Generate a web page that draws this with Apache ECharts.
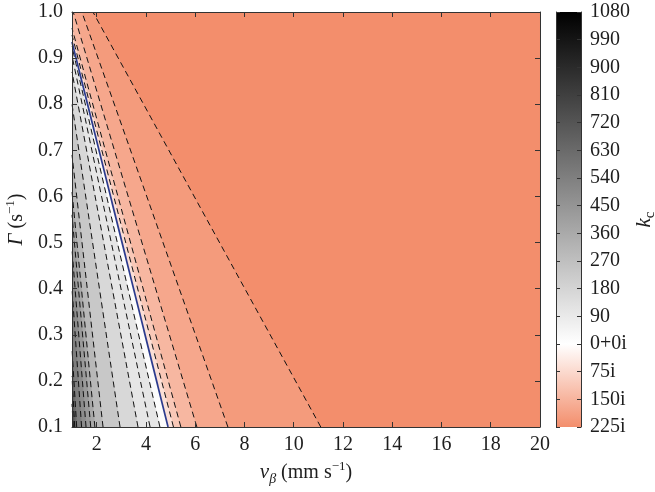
<!DOCTYPE html>
<html><head><meta charset="utf-8">
<script src="https://cdn.jsdelivr.net/npm/echarts@6/dist/echarts.min.js"></script>
<style>html,body{margin:0;padding:0;background:#fff}#c{width:655px;height:492px}</style>
</head><body><div id="c"></div>
<script>
// ---- data ----
const xTicks = [2, 4, 6, 8, 10, 12, 14, 16, 18, 20];
const yTicks = [0.1, 0.2, 0.3, 0.4, 0.5, 0.6, 0.7, 0.8, 0.9, 1.0];
const cbLabels = ['225i', '150i', '75i', '0+0i', '90', '180', '270', '360', '450', '540', '630', '720', '810', '900', '990', '1080'];

// dashed contour lines: point at Γ = 0.1 and where they leave the plot
const dashBottomX = [1.05, 1.11, 1.19, 1.39, 1.57, 1.76, 1.93, 2.26, 2.95, 3.68, 4.17, 4.57, 5.12, 5.42, 6.07, 7.33, 11.1];
const dashEndX    = [1.0, 1.0, 1.0, 1.0, 1.0, 1.0, 1.0, 1.0, 1.0, 1.0, 1.0, 1.0, 1.0, 1.0, 1.05, 1.4, 1.85];
const dashEndY    = [0.15, 0.21, 0.27, 0.40, 0.485, 0.56, 0.61, 0.69, 0.80, 0.87, 0.905, 0.925, 0.95, 0.965, 1.0, 1.0, 1.0];
// filled level just left of each dashed line (positive: real k_c, negative: imaginary part of k_c)
const bandLeftValue = [775, 700, 622, 546, 487, 428, 368, 300, 233, 165, 106, 106, -63, -110, -144, -176, -200];
// k_c = 0 contour (solid blue)
const zeroX = [4.9, 1.0];
const zeroY = [0.1, 0.935];
const zeroLeftValue = 12;
const rightmostValue = -225;
const xRange = [1, 20];
const yRange = [0.1, 1.0];

// ---- colour map (matches colorbar: black..white for real, white..salmon for imaginary) ----
const salmon = [243, 142, 108];
function valueColor(v) {
  if (v >= 0) {
    const g = Math.round(255 * (1 - v / 1080));
    return 'rgb(' + g + ',' + g + ',' + g + ')';
  }
  const f = Math.min(1, -v / 225);
  const c = [0, 1, 2].map(i => Math.round(255 + (salmon[i] - 255) * f));
  return 'rgb(' + c.join(',') + ')';
}

// boundaries for painter-style filling (right to left)
const bounds = dashBottomX.map((xb, i) => ({xb, xe: dashEndX[i], ye: dashEndY[i], v: bandLeftValue[i]}));
bounds.push({xb: zeroX[0], xe: zeroX[1], ye: zeroY[1], v: zeroLeftValue});
bounds.sort((a, b) => b.xb - a.xb);
const fills = [{poly: [[xRange[0], yRange[0]], [xRange[1], yRange[0]], [xRange[1], yRange[1]], [xRange[0], yRange[1]]], v: rightmostValue}];
bounds.forEach(b => {
  let poly;
  if (b.ye >= yRange[1] - 1e-9) poly = [[b.xb, yRange[0]], [b.xe, yRange[1]], [xRange[0], yRange[1]], [xRange[0], yRange[0]]];
  else poly = [[b.xb, yRange[0]], [xRange[0], b.ye], [xRange[0], yRange[0]]];
  fills.push({poly, v: b.v});
});

const FONT = 'Liberation Serif';
const TXT = '#1e1e1e';
const rich = {
  it: {fontFamily: FONT, fontStyle: 'italic', fontSize: 21, color: TXT, lineHeight: 26},
  n: {fontFamily: FONT, fontSize: 20, color: TXT, lineHeight: 26},
  sub: {fontFamily: FONT, fontStyle: 'italic', fontSize: 14, color: TXT, verticalAlign: 'bottom', lineHeight: 26},
  subn: {fontFamily: FONT, fontSize: 15, color: TXT, verticalAlign: 'bottom', lineHeight: 26},
  sup: {fontFamily: FONT, fontSize: 13, color: TXT, verticalAlign: 'top', lineHeight: 26}
};

const series = [];
series.push({
  type: 'custom', xAxisIndex: 0, yAxisIndex: 0, clip: true, z: 1, silent: true,
  data: fills.map((f, i) => [i]),
  renderItem: (params, api) => {
    const f = fills[params.dataIndex];
    const c = valueColor(f.v);
    return {type: 'polygon', shape: {points: f.poly.map(p => api.coord(p))}, style: {fill: c, stroke: c, lineWidth: 0.6}};
  }
});
dashBottomX.forEach((xb, i) => {
  series.push({
    type: 'line', xAxisIndex: 0, yAxisIndex: 0, z: 3, silent: true, symbol: 'none', animation: false,
    data: [[xb, yRange[0]], [dashEndX[i], dashEndY[i]]],
    lineStyle: {type: [6, 4], width: 1, color: '#111'}
  });
});
series.push({
  type: 'line', xAxisIndex: 0, yAxisIndex: 0, z: 4, silent: true, symbol: 'none', animation: false,
  data: zeroX.map((x, i) => [x, zeroY[i]]),
  lineStyle: {type: 'solid', width: 1.7, color: '#2c3b8e'}
});
// colorbar
series.push({
  type: 'custom', xAxisIndex: 2, yAxisIndex: 2, z: 1, silent: true,
  data: [[0]],
  renderItem: (params, api) => {
    const p0 = api.coord([0, cbLabels.length - 4]);
    const p1 = api.coord([1, -3]);
    const whiteAt = (cbLabels.length - 4) / (cbLabels.length - 1);
    return {
      type: 'rect',
      shape: {x: p0[0], y: p0[1], width: p1[0] - p0[0], height: p1[1] - p0[1]},
      style: {fill: new echarts.graphic.LinearGradient(0, 0, 0, 1, [
        {offset: 0, color: valueColor(1080)},
        {offset: whiteAt, color: valueColor(0)},
        {offset: 1, color: valueColor(-225)}
      ])}
    };
  }
});

const axisLine = {show: true, onZero: false, lineStyle: {color: '#333', width: 1}};
const tickStyle = {color: '#333', width: 1};
const labelStyle = {fontFamily: FONT, fontSize: 20, color: TXT};

const option = {
  animation: false,
  backgroundColor: '#fff',
  grid: [
    {left: 72, top: 12, width: 468, height: 415, outerBoundsMode: 'none'},
    {left: 556, top: 12, width: 25, height: 415, outerBoundsMode: 'none'}
  ],
  xAxis: [
    {gridIndex: 0, type: 'value', min: xRange[0], max: xRange[1], position: 'bottom', z: 6,
     axisLine, splitLine: {show: false},
     axisTick: {inside: true, length: 5, customValues: xTicks, lineStyle: tickStyle},
     axisLabel: Object.assign({customValues: xTicks, margin: 8}, labelStyle),
     name: '{it|ν}{sub|β}{n| (mm s}{sup|−1}{n|)}', nameLocation: 'middle', nameGap: 32,
     nameTextStyle: {rich}},
    {gridIndex: 0, type: 'value', min: xRange[0], max: xRange[1], position: 'top', z: 6,
     axisLine, splitLine: {show: false},
     axisTick: {inside: true, length: 5, customValues: xTicks, lineStyle: tickStyle},
     axisLabel: {show: false}},
    {gridIndex: 1, type: 'value', min: 0, max: 1, show: false}
  ],
  yAxis: [
    {gridIndex: 0, type: 'value', min: yRange[0], max: yRange[1], position: 'left', z: 6,
     axisLine, splitLine: {show: false},
     axisTick: {inside: true, length: 5, customValues: yTicks, lineStyle: tickStyle},
     axisLabel: Object.assign({customValues: yTicks, margin: 9, formatter: v => v.toFixed(1)}, labelStyle),
     name: '{it|Γ}{n| (s}{sup|−1}{n|)}', nameLocation: 'middle', nameGap: 30,
     nameTextStyle: {rich}},
    {gridIndex: 0, type: 'value', min: yRange[0], max: yRange[1], position: 'right', z: 6,
     axisLine, splitLine: {show: false},
     axisTick: {inside: true, length: 5, customValues: yTicks, lineStyle: tickStyle},
     axisLabel: {show: false}},
    {gridIndex: 1, type: 'value', min: -3, max: cbLabels.length - 4, interval: 1, position: 'right', z: 6,
     axisLine, splitLine: {show: false},
     axisTick: {inside: true, length: 4, lineStyle: tickStyle},
     axisLabel: Object.assign({margin: 9, formatter: v => cbLabels[Math.round(v) + 3]}, labelStyle),
     name: '{it|k}{subn|c}', nameLocation: 'middle', nameGap: 40, nameRotate: 90,
     nameTextStyle: {rich}},
    {gridIndex: 1, type: 'value', min: -3, max: cbLabels.length - 4, interval: 1, position: 'left', z: 6,
     axisLine, splitLine: {show: false},
     axisTick: {inside: true, length: 4, lineStyle: tickStyle},
     axisLabel: {show: false}}
  ],
  series
};
const chart = echarts.init(document.getElementById('c'), null, {renderer: 'canvas'});
chart.setOption(option);
</script>
</body></html>
